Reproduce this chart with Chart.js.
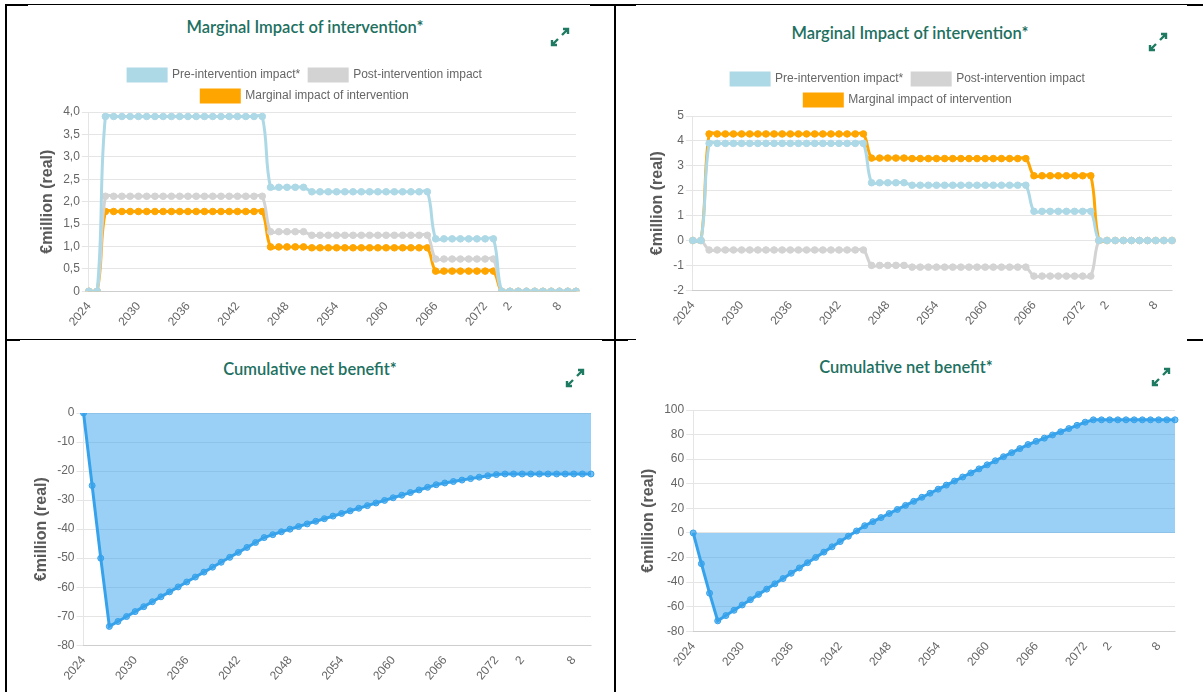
<!DOCTYPE html>
<html>
<head>
<meta charset="utf-8">
<script src="https://cdn.jsdelivr.net/npm/chart.js@4.4.0/dist/chart.umd.min.js"></script>
<style>
  html, body { margin: 0; padding: 0; background: #fff; }
  body { width: 1203px; height: 692px; position: relative; overflow: hidden; }
  canvas { position: absolute; }
  .rule { position: absolute; background: #000; z-index: 5; }
  .title { position: absolute; transform: translate(-50%, -50%); color: #21705f; font: 600 16.5px Lato, "Open Sans", sans-serif; white-space: nowrap; }
  .icon { position: absolute; width: 20px; height: 20px; transform: translate(-50%, -50%); }
</style>
</head>
<body>

<div class="title" style="left:305px;top:27px">Marginal Impact of intervention*</div>
<div class="title" style="left:910px;top:33px">Marginal Impact of intervention*</div>
<div class="title" style="left:310px;top:369px">Cumulative net benefit*</div>
<div class="title" style="left:906px;top:367px">Cumulative net benefit*</div>

<svg class="icon" style="left:560px;top:37px" viewBox="0 0 20 20"><g fill="none" stroke="#1e7b62" stroke-width="2.4"><path d="M12 8 L18 2 M13 2 H18 V7"/><path d="M8 12 L2 18 M2 13 V18 H7"/></g></svg>
<svg class="icon" style="left:1158px;top:42px" viewBox="0 0 20 20"><g fill="none" stroke="#1e7b62" stroke-width="2.4"><path d="M12 8 L18 2 M13 2 H18 V7"/><path d="M8 12 L2 18 M2 13 V18 H7"/></g></svg>
<svg class="icon" style="left:575px;top:378px" viewBox="0 0 20 20"><g fill="none" stroke="#1e7b62" stroke-width="2.4"><path d="M12 8 L18 2 M13 2 H18 V7"/><path d="M8 12 L2 18 M2 13 V18 H7"/></g></svg>
<svg class="icon" style="left:1161px;top:377px" viewBox="0 0 20 20"><g fill="none" stroke="#1e7b62" stroke-width="2.4"><path d="M12 8 L18 2 M13 2 H18 V7"/><path d="M8 12 L2 18 M2 13 V18 H7"/></g></svg>

<canvas id="impactA" width="547" height="285" style="left:34px;top:55px"></canvas>
<canvas id="impactB" width="533" height="285" style="left:644px;top:55px"></canvas>
<canvas id="cumulA" width="568" height="302" style="left:28px;top:390px"></canvas>
<canvas id="cumulB" width="545" height="302" style="left:635px;top:390px"></canvas>

<!-- table borders -->
<div class="rule" style="left:5px;top:4px;width:1198px;height:1px"></div>
<div class="rule" style="left:5px;top:4px;width:23px;height:2px"></div>
<div class="rule" style="left:590px;top:4px;width:46px;height:2px"></div>
<div class="rule" style="left:1187px;top:4px;width:16px;height:2px"></div>
<div class="rule" style="left:5px;top:4px;width:2px;height:688px"></div>
<div class="rule" style="left:614px;top:4px;width:2px;height:688px"></div>
<div class="rule" style="left:5px;top:339px;width:631px;height:1px"></div>
<div class="rule" style="left:5px;top:339px;width:15px;height:2px"></div>
<div class="rule" style="left:602px;top:339px;width:26px;height:2px"></div>
<div class="rule" style="left:1187px;top:339px;width:16px;height:2px"></div>

<script>
Chart.defaults.font.family = '"Liberation Sans", Arial, sans-serif';
Chart.defaults.font.size = 12;
Chart.defaults.color = '#666';

const years = [
  '2024','2025','2026','2027','2028','2029','2030','2031','2032','2033',
  '2034','2035','2036','2037','2038','2039','2040','2041','2042','2043',
  '2044','2045','2046','2047','2048','2049','2050','2051','2052','2053',
  '2054','2055','2056','2057','2058','2059','2060','2061','2062','2063',
  '2064','2065','2066','2067','2068','2069','2070','2071','2072','2073',
  '1','2','3','4','5','6','7','8','9','10'
];
// indexes of the x labels that are actually printed
const shownTicks = [0, 6, 12, 18, 24, 30, 36, 42, 48, 51, 57];

// scenario A (left column)
const preA = [
  0, 0,
  3.9, 3.9, 3.9, 3.9, 3.9, 3.9, 3.9, 3.9, 3.9, 3.9, 3.9, 3.9, 3.9, 3.9, 3.9, 3.9, 3.9, 3.9, 3.9, 3.9,
  2.32, 2.32, 2.32, 2.32, 2.32,
  2.22, 2.22, 2.22, 2.22, 2.22, 2.22, 2.22, 2.22, 2.22, 2.22, 2.22, 2.22, 2.22, 2.22, 2.22,
  1.17, 1.17, 1.17, 1.17, 1.17, 1.17, 1.17, 1.17,
  0, 0, 0, 0, 0, 0, 0, 0, 0, 0
];
const postA = [
  0, 0,
  2.12, 2.12, 2.12, 2.12, 2.12, 2.12, 2.12, 2.12, 2.12, 2.12, 2.12, 2.12, 2.12, 2.12, 2.12, 2.12, 2.12, 2.12, 2.12, 2.12,
  1.33, 1.33, 1.33, 1.33, 1.33,
  1.25, 1.25, 1.25, 1.25, 1.25, 1.25, 1.25, 1.25, 1.25, 1.25, 1.25, 1.25, 1.25, 1.25, 1.25,
  0.72, 0.72, 0.72, 0.72, 0.72, 0.72, 0.72, 0.72,
  0, 0, 0, 0, 0, 0, 0, 0, 0, 0
];
const marginalA = [
  0, 0,
  1.78, 1.78, 1.78, 1.78, 1.78, 1.78, 1.78, 1.78, 1.78, 1.78, 1.78, 1.78, 1.78, 1.78, 1.78, 1.78, 1.78, 1.78, 1.78, 1.78,
  0.99, 0.99, 0.99, 0.99, 0.99,
  0.97, 0.97, 0.97, 0.97, 0.97, 0.97, 0.97, 0.97, 0.97, 0.97, 0.97, 0.97, 0.97, 0.97, 0.97,
  0.45, 0.45, 0.45, 0.45, 0.45, 0.45, 0.45, 0.45,
  0, 0, 0, 0, 0, 0, 0, 0, 0, 0
];
const cumulativeA = [
  0, -25, -50, -73.5,
  -71.8, -70.1, -68.4, -66.7, -65.0, -63.3, -61.6, -59.9, -58.2, -56.5,
  -54.8, -53.1, -51.4, -49.7, -48.0, -46.3, -44.6, -42.9,
  -41.9, -40.9, -40.0, -39.1, -38.2, -37.3, -36.4, -35.5, -34.6, -33.7,
  -32.8, -31.9, -31.0, -30.1, -29.2, -28.3, -27.4, -26.5, -25.6, -24.7,
  -24.1, -23.6, -23.1, -22.6, -22.1, -21.6, -21.2, -21.0,
  -21.0, -21.0, -21.0, -21.0, -21.0, -21.0, -21.0, -21.0, -21.0, -21.0
];

// scenario B (right column)
const preB = [
  0, 0,
  3.9, 3.9, 3.9, 3.9, 3.9, 3.9, 3.9, 3.9, 3.9, 3.9, 3.9, 3.9, 3.9, 3.9, 3.9, 3.9, 3.9, 3.9, 3.9, 3.9,
  2.32, 2.32, 2.32, 2.32, 2.32,
  2.22, 2.22, 2.22, 2.22, 2.22, 2.22, 2.22, 2.22, 2.22, 2.22, 2.22, 2.22, 2.22, 2.22, 2.22,
  1.17, 1.17, 1.17, 1.17, 1.17, 1.17, 1.17, 1.17,
  0, 0, 0, 0, 0, 0, 0, 0, 0, 0
];
const postB = [
  0, 0,
  -0.38, -0.38, -0.38, -0.38, -0.38, -0.38, -0.38, -0.38, -0.38, -0.38, -0.38, -0.38, -0.38, -0.38, -0.38, -0.38, -0.38, -0.38, -0.38, -0.38,
  -1.0, -1.0, -1.0, -1.0, -1.0,
  -1.07, -1.07, -1.07, -1.07, -1.07, -1.07, -1.07, -1.07, -1.07, -1.07, -1.07, -1.07, -1.07, -1.07, -1.07,
  -1.43, -1.43, -1.43, -1.43, -1.43, -1.43, -1.43, -1.43,
  0, 0, 0, 0, 0, 0, 0, 0, 0, 0
];
const marginalB = [
  0, 0,
  4.28, 4.28, 4.28, 4.28, 4.28, 4.28, 4.28, 4.28, 4.28, 4.28, 4.28, 4.28, 4.28, 4.28, 4.28, 4.28, 4.28, 4.28, 4.28, 4.28,
  3.31, 3.31, 3.31, 3.31, 3.31,
  3.29, 3.29, 3.29, 3.29, 3.29, 3.29, 3.29, 3.29, 3.29, 3.29, 3.29, 3.29, 3.29, 3.29, 3.29,
  2.6, 2.6, 2.6, 2.6, 2.6, 2.6, 2.6, 2.6,
  0, 0, 0, 0, 0, 0, 0, 0, 0, 0
];
const cumulativeB = [
  0, -25, -49, -71.5,
  -67.2, -62.9, -58.6, -54.3, -50.0, -45.7, -41.4, -37.1, -32.8, -28.5,
  -24.2, -19.9, -15.6, -11.3, -7.0, -2.7, 1.6, 5.9,
  9.2, 12.5, 15.8, 19.1, 22.4, 25.7, 29.0, 32.3, 35.6, 38.9,
  42.2, 45.5, 48.8, 52.1, 55.4, 58.7, 62.0, 65.3, 68.6, 71.9,
  74.5, 77.1, 79.7, 82.3, 84.9, 87.5, 90.1, 92.0,
  92.0, 92.0, 92.0, 92.0, 92.0, 92.0, 92.0, 92.0, 92.0, 92.0
];

const seriesNames = ['Pre-intervention impact*', 'Post-intervention impact', 'Marginal impact of intervention'];
const seriesColors = ['#add8e6', '#d3d3d3', '#ffa500'];
const areaLine = '#36a2eb';
const areaFill = 'rgba(54, 162, 235, 0.5)';

function commaDecimal(v) {
  return v === 0 ? '0' : v.toFixed(1).replace('.', ',');
}

function xAxis() {
  return {
    grid: { display: false, drawTicks: false },
    border: { color: 'rgba(0,0,0,0.1)' },
    ticks: {
      autoSkip: false,
      minRotation: 50,
      maxRotation: 50,
      padding: 8,
      callback: function (value, index) {
        return shownTicks.includes(index) ? this.getLabelForValue(value) : null;
      }
    }
  };
}

function yAxis(min, max, step, fmt) {
  const axis = {
    min: min,
    max: max,
    grid: { color: 'rgba(0,0,0,0.1)', tickLength: 7 },
    border: { color: 'rgba(0,0,0,0.1)' },
    title: {
      display: true,
      text: '€million (real)',
      color: '#5a5a5a',
      font: { size: 16, weight: 'bold' },
      padding: { top: 4, bottom: 4 }
    },
    ticks: { stepSize: step, padding: 2 }
  };
  if (fmt) axis.ticks.callback = fmt;
  return axis;
}

function impactChart(id, values, yOpts, pad) {
  const datasets = values.map((data, i) => ({
    label: seriesNames[i],
    data: data,
    borderColor: seriesColors[i],
    backgroundColor: seriesColors[i],
    pointBackgroundColor: seriesColors[i],
    borderWidth: 3,
    pointRadius: 3.3,
    pointBorderWidth: 1,
    tension: 0.4,
    fill: false
  }));
  return new Chart(document.getElementById(id), {
    type: 'line',
    data: { labels: years, datasets: datasets },
    options: {
      responsive: false,
      animation: false,
      devicePixelRatio: 1,
      layout: { padding: pad },
      scales: { x: xAxis(), y: yOpts },
      plugins: {
        tooltip: { enabled: false },
        legend: {
          position: 'top',
          labels: { boxWidth: 38, boxHeight: 12, padding: 9, color: '#666', font: { size: 12 } }
        }
      }
    }
  });
}

function cumulativeChart(id, data, yOpts, pad) {
  return new Chart(document.getElementById(id), {
    type: 'line',
    data: {
      labels: years,
      datasets: [{
        label: 'Cumulative net benefit',
        data: data,
        borderColor: areaLine,
        backgroundColor: areaFill,
        pointBackgroundColor: 'rgba(54, 162, 235, 0.7)',
        pointBorderColor: areaLine,
        borderWidth: 3,
        pointRadius: 3,
        pointBorderWidth: 1,
        tension: 0,
        fill: 'origin'
      }]
    },
    options: {
      responsive: false,
      animation: false,
      devicePixelRatio: 1,
      layout: { padding: pad },
      scales: { x: xAxis(), y: yOpts },
      plugins: {
        tooltip: { enabled: false },
        legend: { display: false }
      }
    }
  });
}

impactChart('impactA', [preA, postA, marginalA], yAxis(0, 4, 0.5, commaDecimal),
  { top: 5, right: 5, bottom: 3, left: 0 });
impactChart('impactB', [preB, postB, marginalB], yAxis(-2, 5, 1),
  { top: 9, right: 5, bottom: 4, left: 0 });
cumulativeChart('cumulA', cumulativeA, yAxis(-80, 0, 10),
  { top: 23, right: 5, bottom: 1, left: 0 });
cumulativeChart('cumulB', cumulativeB, yAxis(-80, 100, 20),
  { top: 20, right: 5, bottom: 15, left: 0 });
</script>
</body>
</html>
